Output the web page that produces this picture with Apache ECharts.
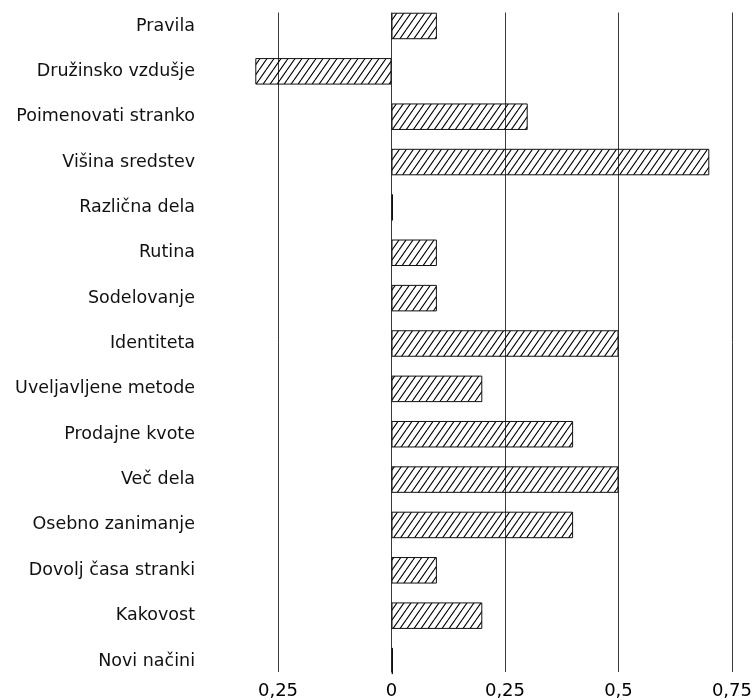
<!DOCTYPE html>
<html><head><meta charset="utf-8">
<script src="https://cdn.jsdelivr.net/npm/echarts@6/dist/echarts.min.js"></script>
<style>html,body{margin:0;padding:0;background:#fff}#c{width:755px;height:700px}</style>
</head><body><div id="c"></div>
<script>
var categories = ['Pravila','Družinsko vzdušje','Poimenovati stranko','Višina sredstev','Različna dela','Rutina','Sodelovanje','Identiteta','Uveljavljene metode','Prodajne kvote','Več dela','Osebno zanimanje','Dovolj časa stranki','Kakovost','Novi načini'];
var values = [0.1,-0.3,0.3,0.7,0,0.1,0.1,0.5,0.2,0.4,0.5,0.4,0.1,0.2,0];
var tickLabels = ['0,25','0','0,25','0,5','0,75'];

var W = 7, H = 10;
var cv = document.createElement('canvas');
cv.width = W; cv.height = H;
var g = cv.getContext('2d');
g.strokeStyle = '#000'; g.lineWidth = 1.1;
g.beginPath();
for (var k = -1; k <= 1; k++) {
  g.moveTo(k*W, H); g.lineTo(k*W + W, 0);
}
g.stroke();

var chart = echarts.init(document.getElementById('c'), null, {renderer:'canvas'});
chart.setOption({
  animation:false,
  backgroundColor:'#fff',
  grid:[
    {left:278,right:23,top:3.3,bottom:16.3},
    {left:278,right:23,top:12.5,bottom:26}
  ],
  xAxis:[
    {gridIndex:0,type:'value',min:-0.25,max:0.75,interval:0.25,show:false},
    {gridIndex:1,type:'value',min:-0.25,max:0.75,interval:0.25,
     axisLine:{show:false},axisTick:{show:false},
     splitLine:{show:true,showMinLine:true,showMaxLine:true,lineStyle:{color:'#3a3a3a',width:1}},
     axisLabel:{margin:10,color:'#000',fontFamily:'DejaVu Sans',fontSize:18,
       formatter:function(v,i){return tickLabels[i];}}}
  ],
  yAxis:[
    {gridIndex:0,type:'category',data:categories,inverse:true,
     axisLine:{show:false},axisTick:{show:false},splitLine:{show:false},
     axisLabel:{margin:83,color:'#111',fontFamily:'DejaVu Sans',fontSize:17.5,padding:[5,0,0,0]}},
    {gridIndex:1,type:'category',data:categories,inverse:true,show:false}
  ],
  series:[{
    type:'bar',xAxisIndex:0,yAxisIndex:0,data:values,barWidth:26.5,clip:false,barMinHeight:1.5,
    itemStyle:{color:{image:cv,repeat:'repeat'},borderColor:'#111',borderWidth:1}
  }]
});
</script></body></html>
